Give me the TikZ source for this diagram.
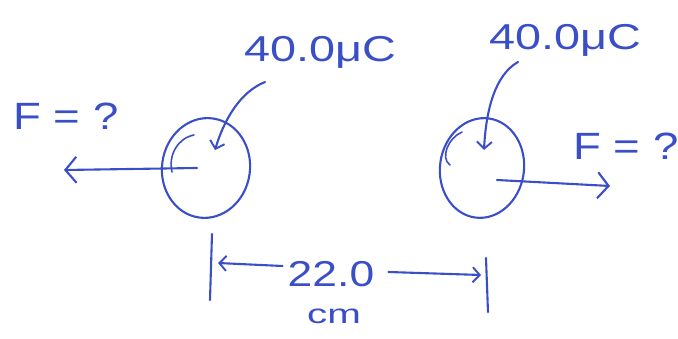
\documentclass[tikz,border=0pt]{standalone}
\usepackage{fontspec}
\setmainfont{Liberation Sans}
\usetikzlibrary{shapes.geometric,arrows.meta}
\definecolor{ink}{RGB}{58,78,200}
\tikzset{
  pen/.style={draw=ink,line width=2.1pt,line cap=round,line join=round},
  ball/.style={pen,ellipse,inner sep=0pt},
  lbl/.style={text=ink,font=\fontsize{36}{38}\selectfont,inner sep=0pt,xscale=1.3},
  flbl/.style={text=ink,font=\fontsize{38}{40}\selectfont,inner sep=0pt,xscale=1.2},
  tip/.style={-{Straight Barb[length=11pt,width=26pt,line width=2.1pt]}},
  stip/.style={-{Straight Barb[length=7pt,width=15pt,line width=1.9pt]}}
}
\begin{document}
\begin{tikzpicture}[x=1pt,y=-1pt]
\useasboundingbox (0,0) rectangle (678,339);
% charges
\node[ball,minimum width=88pt,minimum height=100pt,rotate=-8] (c1) at (206,168) {};
\node[ball,minimum width=84pt,minimum height=100pt,rotate=-8] (c2) at (482,168) {};
% charge labels
\node[lbl] (q1) at (320,52) {40.0μC};
\node[lbl] (q2) at (565,40) {40.0μC};
% force labels
\node[flbl] (f1) at (66,116) {F = ?};
\node[flbl] (f2) at (626,146) {F = ?};
% inner marks
\coordinate (m1a) at (194,135);
\coordinate (m1b) at (172,172);
\draw[pen,line width=1.6pt] (m1a) .. controls (178,138) and (168,155) .. (m1b);
\coordinate (m2a) at (462,132);
\coordinate (m2b) at (450,165);
\draw[pen,line width=1.6pt] (m2a) .. controls (448,138) and (440,158) .. (m2b);
% pointer arrows
\coordinate (p1s) at (265,82);
\coordinate (p1e) at (215,150);
\draw[pen,stip] (p1s) .. controls (240,92) and (224,120) .. (p1e);
\coordinate (p2s) at (518,62);
\coordinate (p2e) at (484,150);
\draw[pen,stip] (p2s) .. controls (495,75) and (486,110) .. (p2e);
% force arrows
\coordinate (a1s) at (197,168);
\coordinate (a1e) at (64,170);
\draw[pen,tip] (a1s) -- (a1e);
\coordinate (a2s) at (497,180);
\coordinate (a2e) at (610,186);
\draw[pen,tip] (a2s) -- (a2e);
% dimension
\coordinate (t1a) at (212,234);
\coordinate (t1b) at (210,300);
\draw[pen] (t1a) -- (t1b);
\coordinate (t2a) at (486,258);
\coordinate (t2b) at (488,312);
\draw[pen] (t2a) -- (t2b);
\node[lbl,font=\fontsize{36}{38}\selectfont,xscale=0.95] (d) at (331,274) {22.0};
\node[lbl,font=\fontsize{27}{29}\selectfont,xscale=1.15] (u) at (334,316) {cm};
\coordinate (dl) at (218,263);
\coordinate (dr) at (481,275);
\draw[pen,stip] (d.west) ++(-5,-8) -- (dl);
\draw[pen,stip] (d.east) ++(14,-2) -- (dr);
\end{tikzpicture}
\end{document}
